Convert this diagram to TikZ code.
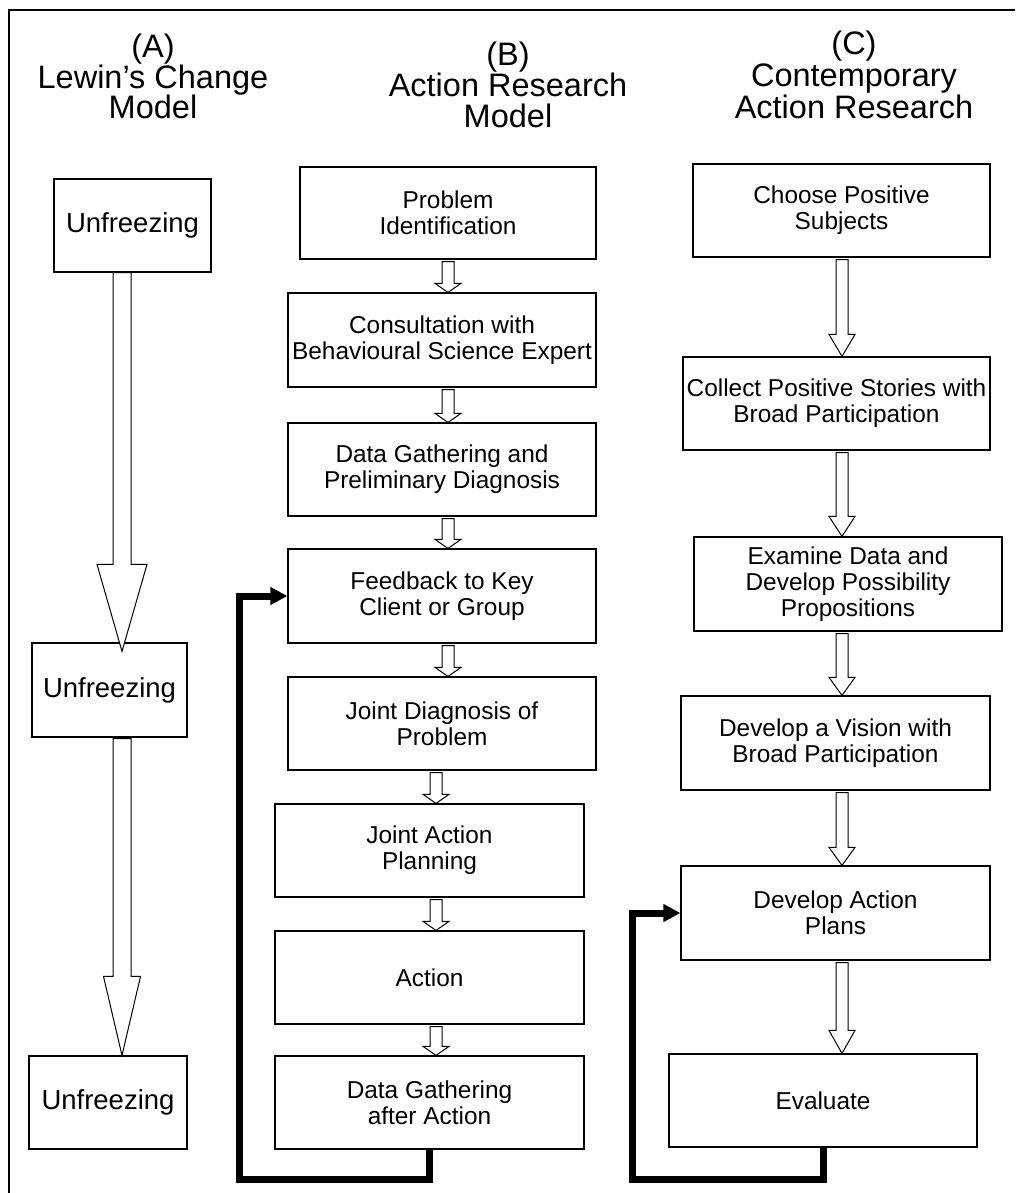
\documentclass[tikz,border=0pt]{standalone}
\usepackage{fontspec}
\setmainfont{Liberation Sans}
\usetikzlibrary{calc,arrows.meta}
\newcommand{\blockarr}[5]{%
  \draw[blk] let \p1=(#1), \p2=(#2) in
    (\x1-#3pt,\y1) -- (\x1-#3pt,\y2+#5pt) -- (\x1-#4pt,\y2+#5pt) -- (\x1,\y2)
    -- (\x1+#4pt,\y2+#5pt) -- (\x1+#3pt,\y2+#5pt) -- (\x1+#3pt,\y1) -- cycle;}
\begin{document}
\begin{tikzpicture}[x=1pt,y=-1pt,
  box/.style={draw=black, line width=1.2pt, fill=white, inner sep=0pt, align=center,
              font=\fontsize{24.4}{26}\selectfont},
  abox/.style={box, font=\fontsize{27.5}{29}\selectfont},
  blk/.style={draw=black, line width=1pt, fill=white, line join=miter},
  loopline/.style={draw=black, line width=7pt, line join=miter,
                   -{Triangle[length=17pt,width=17pt]}},
  ttl/.style={anchor=base, inner sep=0pt, font=\fontsize{32.5}{32}\selectfont}]
\useasboundingbox (0,0) rectangle (1015,1193);
% frame
\draw[line width=1.5pt] (9,1193) -- (9,10) -- (1015,10);

% titles
\node[ttl] (ta1) at (153,58)  {(A)};
\node[ttl] (ta2) at (153,89)  {Lewin’s Change};
\node[ttl] (ta3) at (153,119) {Model};
\node[ttl] (tb1) at (508,66)  {(B)};
\node[ttl] (tb2) at (508,97)  {Action Research};
\node[ttl] (tb3) at (508,128) {Model};
\node[ttl] (tc1) at (854,55)  {(C)};
\node[ttl] (tc2) at (854,87)  {Contemporary};
\node[ttl] (tc3) at (854,119) {Action Research};

% column A
\node[abox, minimum width=157pt, minimum height=93pt] (A1) at (132.5,225.5) {Unfreezing};
\node[abox, minimum width=155pt, minimum height=94pt] (A2) at (109.5,690) {Unfreezing};
\node[abox, minimum width=158pt, minimum height=93pt] (A3) at (108,1102.5) {Unfreezing};

% column B
\node[box, minimum width=296pt, minimum height=92pt] (B1) at (448,213) {Problem\\Identification};
\node[box, minimum width=308pt, minimum height=94pt] (B2) at (442,340) {Consultation with\\Behavioural Science Expert};
\node[box, minimum width=308pt, minimum height=93pt] (B3) at (442,469.5) {Data Gathering and\\Preliminary Diagnosis};
\node[box, minimum width=308pt, minimum height=94pt] (B4) at (442,596) {Feedback to Key\\Client or Group};
\node[box, minimum width=308pt, minimum height=93pt] (B5) at (442,723.5) {Joint Diagnosis of\\Problem};
\node[box, minimum width=309pt, minimum height=93pt] (B6) at (429.5,850.5) {Joint Action\\Planning};
\node[box, minimum width=309pt, minimum height=93pt] (B7) at (429.5,977.5) {Action};
\node[box, minimum width=309pt, minimum height=93pt] (B8) at (429.5,1102.5) {Data Gathering\\after Action};

% column C
\node[box, minimum width=297pt, minimum height=93pt] (C1) at (841.5,210.5) {Choose Positive\\Subjects};
\node[box, minimum width=307pt, minimum height=93pt] (C2) at (836.5,403.5) {Collect Positive Stories with\\Broad Participation};
\node[box, minimum width=308pt, minimum height=94pt] (C3) at (848,584) {Examine Data and\\Develop Possibility\\Propositions};
\node[box, minimum width=309pt, minimum height=94pt] (C4) at (835.5,743) {Develop a Vision with\\Broad Participation};
\node[box, minimum width=309pt, minimum height=94pt] (C5) at (835.5,913) {Develop Action\\Plans};
\node[box, minimum width=308pt, minimum height=93pt] (C6) at (823,1100.5) {Evaluate};

% arrow axes
\coordinate (xa) at (122,0);
\coordinate (xb1) at (448,0);
\coordinate (xb2) at (436,0);
\coordinate (xc) at (842,0);

% column A arrows
\blockarr{A1.south -| xa}{$(A2.north -| xa)+(0,9)$}{9}{25}{87}
\blockarr{$(A2.south -| xa)+(0,1)$}{A3.north -| xa}{9}{18.5}{79}

% column B arrows
\blockarr{$(B1.south -| xb1)+(0,2)$}{B2.north -| xb1}{6}{13}{9}
\blockarr{$(B2.south -| xb1)+(0,2)$}{B3.north -| xb1}{6}{13}{9}
\blockarr{$(B3.south -| xb1)+(0,2)$}{B4.north -| xb1}{6}{13}{9}
\blockarr{$(B4.south -| xb1)+(0,2)$}{B5.north -| xb1}{6}{13}{9}
\blockarr{$(B5.south -| xb2)+(0,2)$}{B6.north -| xb2}{6}{13}{9}
\blockarr{$(B6.south -| xb2)+(0,2)$}{B7.north -| xb2}{6}{13}{9}
\blockarr{$(B7.south -| xb2)+(0,2)$}{B8.north -| xb2}{6}{13}{9}

% column C arrows
\blockarr{$(C1.south -| xc)+(0,2)$}{C2.north -| xc}{6}{13}{22}
\blockarr{$(C2.south -| xc)+(0,2)$}{C3.north -| xc}{6}{13}{20}
\blockarr{$(C3.south -| xc)+(0,2)$}{C4.north -| xc}{6}{13}{18}
\blockarr{$(C4.south -| xc)+(0,2)$}{C5.north -| xc}{6}{13}{18}
\blockarr{$(C5.south -| xc)+(0,2)$}{C6.north -| xc}{6}{13}{23}

% feedback loops
\coordinate (lb) at (239,1179);
\coordinate (lc) at (632,1179);
\draw[loopline] (B8.south) -- (B8.south |- lb) -| (lb |- B4.west) -- (B4.west);
\draw[loopline] (C6.south) -- (C6.south |- lc) -| (lc |- C5.west) -- (C5.west);
\end{tikzpicture}
\end{document}
